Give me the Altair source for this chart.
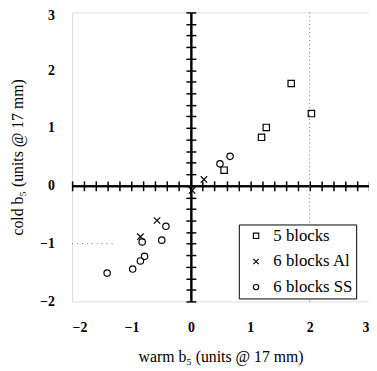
import altair as alt
import pandas as pd
import numpy as np

series = ["5 blocks", "6 blocks Al", "6 blocks SS"]

sq_x = [1.69, 2.03, 1.27, 1.19, 0.56]
sq_y = [1.77, 1.25, 1.01, 0.84, 0.27]

al_x = [0.22, -0.57, -0.85, 0.02]
al_y = [0.11, -0.60, -0.88, -0.08]

ss_x = [0.66, 0.49, -0.42, -0.49, -0.82, -0.78, -0.85, -0.98, -1.41]
ss_y = [0.51, 0.38, -0.70, -0.94, -0.97, -1.22, -1.30, -1.44, -1.51]

major_ticks = [-2, -1, 0, 1, 2, 3]
minor_ticks = [round(v, 1) for v in np.arange(-2, 3.01, 0.2)]

rows = []
for xs_, ys_, name in [(sq_x, sq_y, series[0]), (al_x, al_y, series[1]), (ss_x, ss_y, series[2])]:
    for a, b in zip(xs_, ys_):
        rows.append({"x": a, "y": b, "series": name})
df = pd.DataFrame(rows)

W, H = 301, 293
FONT = "Liberation Serif"
xs = alt.Scale(domain=[-2, 3], nice=False, zero=False)
ys = alt.Scale(domain=[-2, 3], nice=False, zero=False)

xpath = "M-1,-1L1,1M1,-1L-1,1"

points = alt.Chart(df).mark_point(filled=False, strokeWidth=1.2, color="black", opacity=1).encode(
    x=alt.X("x:Q", scale=xs, axis=alt.Axis(
        values=major_ticks, ticks=False, domain=False, grid=False,
        labelFont=FONT, labelFontSize=14, labelFontWeight="bold", labelColor="black",
        labelPadding=19, title="warm b\u2085 (units @ 17 mm)", titleFont=FONT,
        titleFontSize=16, titleFontWeight="normal", titleColor="black", titlePadding=15)),
    y=alt.Y("y:Q", scale=ys, axis=alt.Axis(
        values=major_ticks, ticks=False, domain=False, grid=False,
        labelFont=FONT, labelFontSize=14, labelFontWeight="bold", labelColor="black",
        labelOffset={"condition": {"test": "datum.value === 3", "value": 3}, "value": 0},
        labelPadding=18, title="cold b\u2085 (units @ 17 mm)", titleFont=FONT,
        titleFontSize=16, titleFontWeight="normal", titleColor="black", titlePadding=14)),
    shape=alt.Shape("series:N", scale=alt.Scale(domain=series, range=["square", xpath, "circle"]),
                    legend=alt.Legend(
                        title=None, orient="none", legendX=169, legendY=215,
                        labelFont=FONT, labelFontSize=17, labelColor="black",
                        labelOffset=9, symbolOffset=6,
                        labelExpr="datum.label + ' '",
                        strokeColor="black", fillColor="white", padding=3,
                        rowPadding=8, symbolSize=30, symbolStrokeColor="black",
                        symbolStrokeWidth=1.1, symbolFillColor="transparent")),
    size=alt.value(42),
)

def cross_axis(orient, offset):
    return alt.Axis(orient=orient, offset=offset, values=minor_ticks, labels=False,
                    title=None, grid=False, domain=True, domainColor="black", domainWidth=2,
                    ticks=True, tickColor="black", tickSize=5, tickWidth=1.5)

def axis_layer(ch, orient, offset):
    base = alt.Chart(df).mark_point(opacity=0)
    if ch == "y":
        return base.encode(x=alt.X("x:Q", scale=xs, axis=None),
                           y=alt.Y("y:Q", scale=ys, axis=cross_axis(orient, offset)))
    return base.encode(x=alt.X("x:Q", scale=xs, axis=cross_axis(orient, offset)),
                       y=alt.Y("y:Q", scale=ys, axis=None))

x0 = W * 2 / 5
y0 = H * 3 / 5
ax_l = axis_layer("y", "left", -x0)
ax_r = axis_layer("y", "right", -(W - x0))
ax_b = axis_layer("x", "bottom", -(H - y0))
ax_t = axis_layer("x", "top", -y0)

grid_df = pd.DataFrame({"gx": [2]})
vgrid = alt.Chart(grid_df).mark_rule(color="#777", strokeDash=[1, 3], strokeWidth=1).encode(
    x=alt.X("gx:Q", scale=xs, axis=None))

hgrid_df = pd.DataFrame({"gx1": [-2], "gx2": [-1.3], "gy": [-1]})
hgrid = alt.Chart(hgrid_df).mark_rule(color="#777", strokeDash=[1, 4], strokeWidth=1).encode(
    x=alt.X("gx1:Q", scale=xs, axis=None), x2="gx2:Q",
    y=alt.Y("gy:Q", scale=ys, axis=None))

chart = alt.layer(vgrid, hgrid, ax_l, ax_r, ax_b, ax_t, points).resolve_axis(
    x="independent", y="independent"
).properties(
    width=W, height=H,
    autosize=alt.AutoSizeParams(type="none"),
    padding={"left": 65, "top": 2, "right": 0, "bottom": 64},
).configure_view(stroke="black", strokeWidth=2).configure(background="white", font=FONT)

chart.save("out.html", embed_options={"renderer": "svg", "actions": False})
